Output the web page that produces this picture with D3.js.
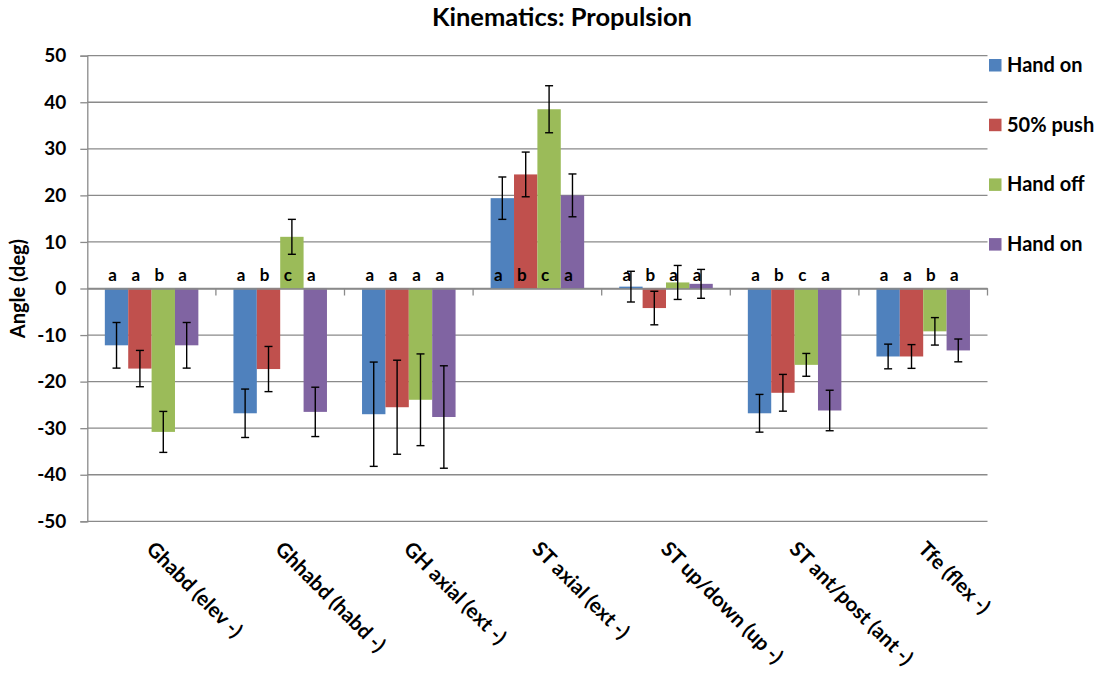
<!DOCTYPE html>
<html>
<head>
<meta charset="utf-8">
<script src="https://cdn.jsdelivr.net/npm/d3@7/dist/d3.min.js"></script>
<style>
  html, body { margin: 0; padding: 0; background: #fff; }
  svg { display: block; font-family: Lato, "Open Sans", sans-serif; font-weight: bold; }
</style>
</head>
<body>
<svg id="chart" width="1104" height="675"></svg>
<script>
// Joint angle categories
const categories = [
  "Ghabd (elev -)", "Ghhabd (habd -)", "GH axial (ext -)", "ST axial (ext -)",
  "ST up/down (up -)", "ST ant/post (ant -)", "Tfe (flex -)"
];
const seriesNames = ["Hand on", "50% push", "Hand off", "Hand on"];
const seriesColors = ["#4F81BD", "#C0504D", "#9BBB59", "#8064A2"];

// Mean angles (deg) per phase
const handOnStart = [-12.2, -26.8, -27.0, 19.4, 0.4, -26.8, -14.6];
const push50      = [-17.2, -17.3, -25.5, 24.5, -4.2, -22.4, -14.6];
const handOff     = [-30.8, 11.1, -23.9, 38.5, 1.3, -16.4, -9.2];
const handOnEnd   = [-12.2, -26.5, -27.6, 20.0, 1.0, -26.2, -13.3];

// Standard deviations (error bars)
const sdHandOnStart = [4.9, 5.2, 11.2, 4.55, 3.3, 4.05, 2.65];
const sdPush50      = [3.9, 4.85, 10.1, 4.8, 3.6, 3.95, 2.55];
const sdHandOff     = [4.4, 3.75, 9.85, 5.05, 3.65, 2.45, 2.95];
const sdHandOnEnd   = [4.9, 5.3, 11.0, 4.6, 3.1, 4.35, 2.45];

// Statistical grouping letters
const lettersHandOnStart = ["a", "a", "a", "a", "a", "a", "a"];
const lettersPush50      = ["a", "b", "a", "b", "b", "b", "a"];
const lettersHandOff     = ["b", "c", "a", "c", "a", "c", "b"];
const lettersHandOnEnd   = ["a", "a", "a", "a", "a", "a", "a"];

const yTicks = [50, 40, 30, 20, 10, 0, -10, -20, -30, -40, -50];

const means = [handOnStart, push50, handOff, handOnEnd];
const sds = [sdHandOnStart, sdPush50, sdHandOff, sdHandOnEnd];
const letters = [lettersHandOnStart, lettersPush50, lettersHandOff, lettersHandOnEnd];

const records = [];
categories.forEach((cat, ci) => {
  seriesNames.forEach((name, si) => {
    records.push({ cat, si, value: means[si][ci], sd: sds[si][ci], letter: letters[si][ci] });
  });
});

const svg = d3.select("#chart");
const plotLeft = 87.3, plotRight = 987.5, plotTop = 55.7, plotBottom = 521.3;

const x = d3.scaleBand().domain(categories).range([plotLeft, plotRight]).padding(0);
const xs = d3.scaleBand().domain(d3.range(seriesNames.length))
  .range([0, x.bandwidth()]).paddingInner(0).paddingOuter(0.75);
const y = d3.scaleLinear().domain([-50, 50]).range([plotBottom, plotTop]);

const gridColor = "#8a8a8a";

// Horizontal gridlines
svg.append("g").selectAll("line").data(yTicks).join("line")
  .attr("x1", plotLeft).attr("x2", plotRight)
  .attr("y1", d => y(d)).attr("y2", d => y(d))
  .attr("stroke", gridColor).attr("stroke-width", 1.3);

// Y axis (plain hyphen for negatives)
const yAxis = d3.axisLeft(y).tickValues(yTicks).tickSize(7).tickPadding(14)
  .tickFormat(d => String(d));
const yg = svg.append("g").attr("transform", `translate(${plotLeft},0)`).call(yAxis);
yg.select(".domain").attr("stroke", gridColor).attr("stroke-width", 1.3);
yg.selectAll(".tick line").attr("stroke", gridColor).attr("stroke-width", 1.3);
yg.selectAll(".tick text").attr("font-size", 19).attr("font-family", "Lato, sans-serif")
  .attr("font-weight", "bold").attr("fill", "#000");

// Bars
svg.append("g").selectAll("rect").data(records).join("rect")
  .attr("x", d => x(d.cat) + xs(d.si))
  .attr("width", xs.bandwidth())
  .attr("y", d => Math.min(y(d.value), y(0)))
  .attr("height", d => Math.abs(y(d.value) - y(0)))
  .attr("fill", d => seriesColors[d.si]);

// Zero line with category tick marks
const xAxis = d3.axisBottom(x).tickSize(0).tickFormat("");
const xg = svg.append("g").attr("transform", `translate(0,${y(0)})`).call(xAxis);
xg.select(".domain").attr("stroke", gridColor).attr("stroke-width", 1.3);
xg.selectAll(".tick").remove();
const bounds = categories.map(c => x(c)).concat([plotRight]).slice(1);
xg.selectAll("line.sep").data(bounds).join("line").attr("class", "sep")
  .attr("x1", d => d).attr("x2", d => d).attr("y1", 0).attr("y2", 7)
  .attr("stroke", gridColor).attr("stroke-width", 1.3);

// Error bars
const eb = svg.append("g").attr("stroke", "#000").attr("stroke-width", 1.4);
records.forEach(d => {
  const cx = x(d.cat) + xs(d.si) + xs.bandwidth() / 2;
  const y1 = y(d.value + d.sd), y2 = y(d.value - d.sd);
  eb.append("line").attr("x1", cx).attr("x2", cx).attr("y1", y1).attr("y2", y2);
  eb.append("line").attr("x1", cx - 4).attr("x2", cx + 4).attr("y1", y1).attr("y2", y1);
  eb.append("line").attr("x1", cx - 4).attr("x2", cx + 4).attr("y1", y2).attr("y2", y2);
});

// Grouping letters
svg.append("g").selectAll("text").data(records).join("text")
  .attr("x", d => x(d.cat) + xs(d.si) + xs.bandwidth() / 2 - 4)
  .attr("y", y(0) - 8)
  .attr("text-anchor", "middle")
  .attr("font-size", 17)
  .attr("fill", "#000")
  .text(d => d.letter);

// Category labels, rotated
svg.append("g").selectAll("text").data(categories).join("text")
  .attr("transform", d => `translate(${x(d) + x.bandwidth() / 2 + 5},${539}) rotate(45)`)
  .attr("text-anchor", "start")
  .attr("dominant-baseline", "hanging")
  .attr("font-size", 20.5)
  .attr("fill", "#000")
  .text(d => d);

// Y axis title
svg.append("text")
  .attr("transform", `translate(25,${(plotTop + plotBottom) / 2}) rotate(-90)`)
  .attr("text-anchor", "middle")
  .attr("font-size", 20)
  .attr("fill", "#000")
  .text("Angle (deg)");

// Title
svg.append("text")
  .attr("x", 562).attr("y", 26)
  .attr("text-anchor", "middle")
  .attr("font-size", 25.5)
  .attr("fill", "#000")
  .text("Kinematics: Propulsion");

// Legend
const legend = svg.append("g").selectAll("g").data(seriesNames).join("g")
  .attr("transform", (d, i) => `translate(989,${65 + i * 59.7})`);
legend.append("rect").attr("x", 0).attr("y", -6).attr("width", 12.5).attr("height", 12.5)
  .attr("fill", (d, i) => seriesColors[i]);
legend.append("text").attr("x", 18).attr("y", 0).attr("dy", "0.35em")
  .attr("font-size", 20).attr("fill", "#000").text(d => d);
</script>
</body>
</html>
